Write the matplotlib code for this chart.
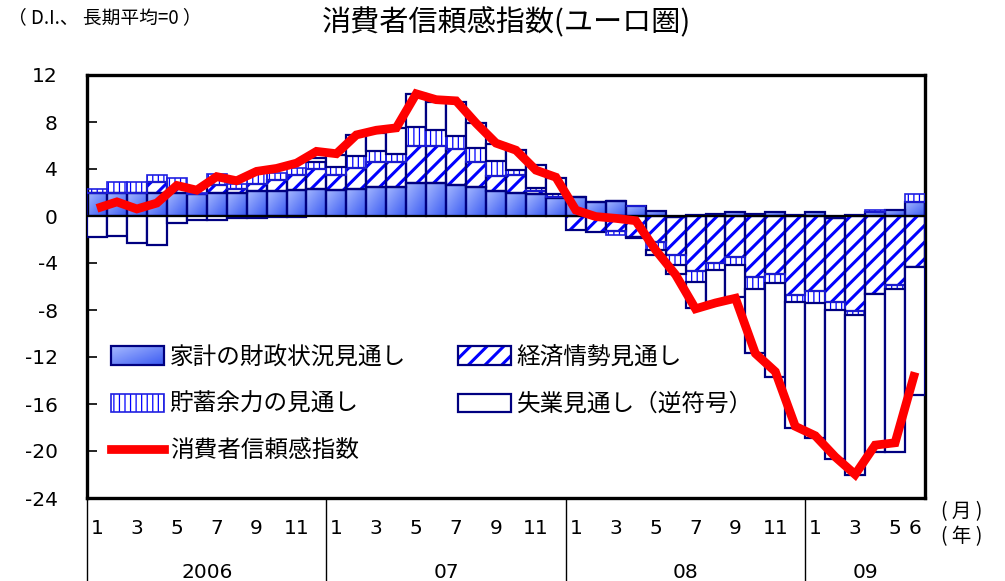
import numpy as np
import matplotlib
matplotlib.use("Agg")
import matplotlib.pyplot as plt
from matplotlib import font_manager
from matplotlib.colors import LinearSegmentedColormap
from matplotlib.patches import Rectangle, Patch
from matplotlib.lines import Line2D
from matplotlib.legend_handler import HandlerBase
from matplotlib.image import BboxImage
from matplotlib.transforms import Bbox, TransformedBbox, blended_transform_factory

# ---------------- data ----------------
years = ["2006", "07", "08", "09"]
month_numbers = [1, 2, 3, 4, 5, 6, 7, 8, 9, 10, 11, 12] * 3 + [1, 2, 3, 4, 5, 6]

household = [2.0, 2.0, 2.0, 2.0, 2.0, 1.9, 2.0, 2.0, 2.1, 2.1, 2.2, 2.3,
             2.2, 2.3, 2.5, 2.5, 2.8, 2.8, 2.6, 2.5, 2.1, 2.0, 1.85, 1.5,
             1.6, 1.2, 1.3, 0.85, 0.45, -0.1, 0.1, 0.2, 0.3, 0.2, 0.3, 0.1,
             0.3, -0.2, 0.1, 0.35, 0.55, 1.2]
economy = [0.0, 0.0, 0.0, 0.9, 0.4, 0.0, 0.6, 0.3, 0.6, 1.0, 1.3, 1.7,
           1.3, 1.8, 2.1, 2.1, 3.2, 3.2, 3.1, 2.1, 1.3, 1.5, 0.25, 0.1,
           -1.2, -1.4, -1.3, -1.8, -2.2, -3.2, -4.7, -4.0, -3.5, -5.2, -4.9, -6.7,
           -6.4, -7.1, -8.1, -6.6, -5.9, -4.3]
savings = [0.3, 0.9, 0.9, 0.6, 0.8, 0.1, 1.0, 0.4, 1.0, 0.6, 0.6, 0.6,
           0.7, 1.0, 0.9, 0.7, 1.6, 1.3, 1.1, 1.2, 1.3, 0.4, 0.25, 0.3,
           0.0, 0.0, -0.3, 0.0, -0.7, -0.9, -0.9, -0.6, -0.7, -1.0, -0.8, -0.6,
           -1.0, -0.7, -0.3, 0.2, -0.3, 0.7]
unemployment = [-1.8, -1.7, -2.3, -2.5, -0.6, -0.3, -0.35, -0.15, -0.15, -0.05, -0.05, 0.3,
                1.0, 1.8, 1.6, 2.2, 2.8, 2.4, 2.9, 2.1, 1.4, 1.7, 2.0, 1.3,
                0.0, 0.0, 0.0, -0.1, -0.4, -0.7, -2.25, -2.7, -2.7, -5.5, -8.0, -10.7,
                -11.5, -12.7, -13.6, -13.5, -13.9, -10.9]
confidence = [0.65, 1.2, 0.6, 1.1, 2.6, 2.2, 3.35, 3.0, 3.8, 4.05, 4.5, 5.5,
              5.3, 6.9, 7.3, 7.5, 10.4, 9.9, 9.8, 7.9, 6.2, 5.6, 3.9, 3.3,
              0.5, -0.05, -0.2, -0.4, -2.9, -5.0, -7.9, -7.4, -7.0, -11.7, -13.25, -17.9,
              -18.7, -20.5, -22.0, -19.5, -19.3, -13.3]

labels = ["家計の財政状況見通し", "経済情勢見通し", "貯蓄余力の見通し",
          "失業見通し（逆符号）", "消費者信頼感指数"]
title = "消費者信頼感指数(ユーロ圏)"
unit_note = "（ D.I.、 長期平均=0 ）"

# ---------------- fonts ----------------
def has_font(name):
    try:
        font_manager.findfont(font_manager.FontProperties(family=name), fallback_to_default=False)
        return True
    except Exception:
        return False

CJK = "Noto Sans CJK JP"
NUM = "Liberation Sans Narrow" if has_font("Liberation Sans Narrow") else "DejaVu Sans"
NUM_SIZE = 16 if NUM == "Liberation Sans Narrow" else 14.5
plt.rcParams["font.family"] = [CJK, "DejaVu Sans"]

NAVY = "#000080"
BLUE = "#0000ff"
ECON_HATCH_LW = 2.2
SAV_HATCH_LW = 0.9
grad_cmap = LinearSegmentedColormap.from_list("g", ["#a6b9ff", "#3a5af2"])
gy, gx = np.mgrid[0:40, 0:40]
grad = (gy / 39.0 + gx / 39.0) / 2.0

W, H = 1005, 581
fig = plt.figure(figsize=(W / 100, H / 100), dpi=100)
ax = fig.add_axes([87 / W, 83 / H, 838 / W, 423 / H])

x = np.arange(len(household))
pos = np.zeros(len(x))
neg = np.zeros(len(x))

def stack(vals):
    v = np.asarray(vals, dtype=float)
    bottom = np.where(v >= 0, pos, neg)
    pos[:] = pos + np.where(v >= 0, v, 0)
    neg[:] = neg + np.where(v < 0, v, 0)
    return v, bottom

def set_hlw(patch, lw):
    if hasattr(patch, "set_hatch_linewidth"):
        patch.set_hatch_linewidth(lw)

# household (gradient)
v, b = stack(household)
hb = ax.bar(x, v, bottom=b, width=1.0, facecolor="none", edgecolor=NAVY, linewidth=1.6, zorder=3)
for r in hb:
    x0, y0 = r.get_x(), r.get_y()
    w, h = r.get_width(), r.get_height()
    im = ax.imshow(grad, extent=[x0, x0 + w, min(y0, y0 + h), max(y0, y0 + h)],
                   cmap=grad_cmap, aspect="auto", zorder=2, interpolation="bilinear")
    im.set_clip_path(r)

# economy (diagonal hatch)
v, b = stack(economy)
eb = ax.bar(x, v, bottom=b, width=1.0, facecolor="white", edgecolor=BLUE, linewidth=0,
            hatch="//", zorder=2)
for r in eb:
    set_hlw(r, ECON_HATCH_LW)
ax.bar(x, v, bottom=b, width=1.0, facecolor="none", edgecolor=NAVY, linewidth=1.6, zorder=3)

# savings (vertical hatch)
v, b = stack(savings)
sb = ax.bar(x, v, bottom=b, width=1.0, facecolor="white", edgecolor=BLUE, linewidth=0,
            hatch="|||", zorder=2)
for r in sb:
    set_hlw(r, SAV_HATCH_LW)
ax.bar(x, v, bottom=b, width=1.0, facecolor="none", edgecolor="#2020e0", linewidth=1.2, zorder=3)

# unemployment (white)
v, b = stack(unemployment)
ax.bar(x, v, bottom=b, width=1.0, facecolor="white", edgecolor=NAVY, linewidth=1.6, zorder=3)

# zero line
ax.axhline(0, color="black", linewidth=1.5, zorder=4)

# confidence line
ax.plot(x, confidence, color="#ff0000", linewidth=6.3, solid_joinstyle="miter",
        solid_capstyle="butt", zorder=6)

ax.set_xlim(-0.5, len(x) - 0.5)
ax.set_ylim(-24, 12)
ax.set_yticks(np.arange(-24, 13, 4))
ax.set_yticklabels([str(t) for t in range(-24, 13, 4)], fontfamily=NUM, fontsize=NUM_SIZE)
ax.tick_params(axis="y", direction="in", length=7, width=1.2, pad=21)
ax.tick_params(axis="x", length=0)
ax.set_xticks([])
for s in ax.spines.values():
    s.set_linewidth(2.4)
    s.set_color("black")

# month labels
tr = blended_transform_factory(ax.transData, ax.transAxes)
for i, m in enumerate(month_numbers):
    if m % 2 == 1 or i == len(month_numbers) - 1:
        ax.text(i, -0.073, str(m), transform=tr, ha="center", va="center",
                fontfamily=NUM, fontsize=NUM_SIZE, clip_on=False)
# year dividers and labels
starts = [0, 12, 24, 36]
ends = [12, 24, 36, len(x)]
for yl, s0, e0 in zip(years, starts, ends):
    ax.plot([s0 - 0.5, s0 - 0.5], [0, -0.2], transform=tr, color="black",
            linewidth=1.0, clip_on=False)
    ax.text((s0 + e0 - 1) / 2, -0.176, yl, transform=tr, ha="center", va="center",
            fontfamily=NUM, fontsize=NUM_SIZE, clip_on=False)

fig.text(962 / W, 1 - 512 / H, "( 月 )", ha="center", va="center", fontsize=14)
fig.text(962 / W, 1 - 537 / H, "( 年 )", ha="center", va="center", fontsize=14)

# titles
fig.text(506 / W, 1 - 23 / H, title, ha="center", va="center", fontsize=21)
fig.text(8 / W, 1 - 18 / H, unit_note, ha="left", va="center", fontsize=13.5)

# legend
class GradHandler(HandlerBase):
    def create_artists(self, legend, orig_handle, xdescent, ydescent, width, height, fontsize, trans):
        bb = TransformedBbox(Bbox.from_bounds(-xdescent, -ydescent, width, height), trans)
        im = BboxImage(bb, cmap=grad_cmap, interpolation="bilinear")
        im.set_data(grad)
        rect = Rectangle((-xdescent, -ydescent), width, height, facecolor="none",
                         edgecolor=NAVY, linewidth=1.6, transform=trans)
        return [im, rect]

class HatchHandler(HandlerBase):
    def __init__(self, hatch, hlw, edge, elw):
        super().__init__()
        self.hatch, self.hlw, self.edge, self.elw = hatch, hlw, edge, elw

    def create_artists(self, legend, orig_handle, xdescent, ydescent, width, height, fontsize, trans):
        r1 = Rectangle((-xdescent, -ydescent), width, height, facecolor="white",
                       edgecolor=BLUE, linewidth=0, hatch=self.hatch, transform=trans)
        set_hlw(r1, self.hlw)
        r2 = Rectangle((-xdescent, -ydescent), width, height, facecolor="none",
                       edgecolor=self.edge, linewidth=self.elw, transform=trans)
        return [r1, r2]

h_house = Patch(facecolor="#6680ff", edgecolor=NAVY)
h_econ = Patch(facecolor="white", edgecolor=BLUE, hatch="//")
h_sav = Patch(facecolor="white", edgecolor=BLUE, hatch="|||")
h_unemp = Patch(facecolor="white", edgecolor=NAVY, linewidth=1.6)
h_line = Line2D([], [], color="#ff0000", linewidth=6.3)

leg = ax.legend([h_house, h_sav, h_line, h_econ, h_unemp],
                [labels[0], labels[2], labels[4], labels[1], labels[3]],
                ncol=2, loc="upper left", bbox_to_anchor=(0.014, 0.388),
                frameon=False, fontsize=17, handlelength=2.25, handleheight=0.8,
                handletextpad=0.25, columnspacing=2.2, labelspacing=1.02, borderpad=0,
                handler_map={h_house: GradHandler(),
                             h_econ: HatchHandler("//", ECON_HATCH_LW, NAVY, 1.6),
                             h_sav: HatchHandler("|||", SAV_HATCH_LW, "#2020e0", 1.2)})
leg.set_zorder(7)

fig.savefig("out.png", dpi=100)
